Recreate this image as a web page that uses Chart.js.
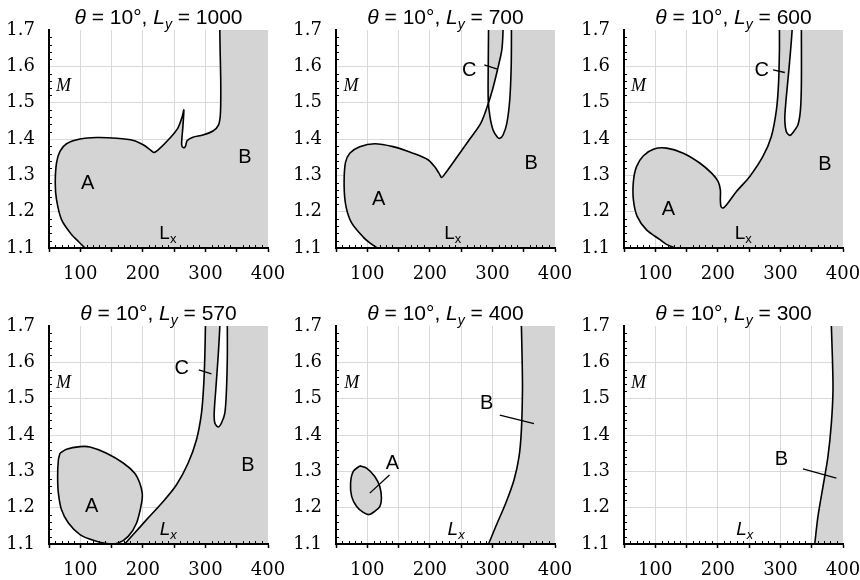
<!DOCTYPE html>
<html>
<head>
<meta charset="utf-8">
<title>theta = 10 deg, regions A B C</title>
<script src="https://cdn.jsdelivr.net/npm/chart.js@4.4.1/dist/chart.umd.min.js"></script>
<style>
  html, body { margin: 0; padding: 0; background: #fff; }
  #figure { position: relative; width: 860px; height: 580px; overflow: hidden; }
  .panel { position: absolute; width: 287px; height: 290px; }
  .panel canvas { display: block; }
</style>
</head>
<body>
<div id="figure">
  <div class="panel" style="left:0;top:0"><canvas id="panel-0" width="287" height="290"></canvas></div>
  <div class="panel" style="left:287px;top:0"><canvas id="panel-1" width="287" height="290"></canvas></div>
  <div class="panel" style="left:575px;top:0"><canvas id="panel-2" width="287" height="290"></canvas></div>
  <div class="panel" style="left:0;top:296px"><canvas id="panel-3" width="287" height="290"></canvas></div>
  <div class="panel" style="left:287px;top:296px"><canvas id="panel-4" width="287" height="290"></canvas></div>
  <div class="panel" style="left:575px;top:296px"><canvas id="panel-5" width="287" height="290"></canvas></div>
</div>
<script>
"use strict";

// theta = 10 deg in every panel, only L_y changes
const LY_VALUES = [1000, 700, 600, 570, 400, 300];
const X_TICKS = [100, 200, 300, 400];
const Y_TICKS = [1.1, 1.2, 1.3, 1.4, 1.5, 1.6, 1.7];

// [Lx, M] boundary of the shaded A+B region, from the bottom edge up to the top edge
const edgeLy1000 = [
  [112, 1.092], [107.5, 1.1], [97, 1.118], [86, 1.137], [70, 1.178], [62, 1.233], [60, 1.279],
  [62, 1.334], [67.5, 1.366], [78, 1.387], [99.5, 1.4], [126, 1.404], [158, 1.402], [185, 1.396],
  [200.5, 1.384], [212, 1.37], [217.5, 1.363], [224.5, 1.37], [243, 1.402], [256, 1.43],
  [263, 1.462], [265.5, 1.48], [264, 1.434], [262, 1.384], [265, 1.376], [268, 1.38], [271, 1.396],
  [280, 1.405], [296, 1.411], [312, 1.422], [321, 1.439], [324, 1.471], [324.5, 1.553],
  [323.5, 1.645], [323, 1.7], [323, 1.75]
];

const edgeLy700 = [
  [120, 1.092], [115.7, 1.1], [104, 1.114], [93.5, 1.13], [75, 1.169], [66, 1.214], [63, 1.269],
  [65, 1.334], [72, 1.361], [88, 1.379], [112, 1.387], [141, 1.379], [173, 1.361], [197, 1.343],
  [207.5, 1.324], [214.5, 1.306], [219, 1.294], [224, 1.304], [242, 1.347], [263, 1.398],
  [281.5, 1.444], [292, 1.491], [300, 1.535], [308, 1.59], [315, 1.645], [317, 1.7], [317.5, 1.75]
];
const loopCLy700 = [
  [294, 1.75], [293.8, 1.7], [293.3, 1.6], [293.3, 1.508], [296, 1.462], [301, 1.425], [308, 1.405],
  [312, 1.402], [317, 1.411], [323, 1.443], [327.7, 1.508], [330, 1.6], [330.4, 1.7], [330.5, 1.75]
];
// part of loop C that lies left of the A+B edge (shaded again)
const wedgeLy700 = [
  [293.8, 1.75], [293.8, 1.7], [293.3, 1.6], [293.5, 1.5], [300, 1.535], [308, 1.59],
  [315, 1.645], [317, 1.7], [317.5, 1.75]
];

const edgeLy600 = [
  [136, 1.092], [131.4, 1.1], [118, 1.11], [107.5, 1.123], [86, 1.15], [71, 1.187], [65, 1.233],
  [65, 1.283], [70, 1.324], [81, 1.354], [97, 1.372], [118, 1.375], [144.7, 1.361], [171, 1.334],
  [190, 1.306], [200.5, 1.283], [204, 1.26], [204, 1.233], [205, 1.214], [208.5, 1.21], [214, 1.219],
  [230, 1.256], [251, 1.297], [272, 1.352], [285.5, 1.407], [293.6, 1.48], [297, 1.553],
  [298.4, 1.645], [298.4, 1.7], [298.4, 1.75]
];
const loopCLy600 = [
  [319, 1.75], [318.7, 1.7], [314, 1.6], [308.5, 1.498], [307, 1.453], [309.5, 1.42], [315, 1.41],
  [321, 1.42], [328, 1.439], [332, 1.48], [333.5, 1.553], [333.5, 1.7], [333.5, 1.75]
];

const loopALy570 = [
  [67.6, 1.35], [78, 1.361], [99.5, 1.368], [115.4, 1.367], [142, 1.35], [168.6, 1.323], [187, 1.295],
  [195, 1.268], [199, 1.24], [198, 1.213], [190, 1.158], [176.6, 1.121], [160.7, 1.103], [142, 1.101],
  [120.8, 1.11], [99.5, 1.126], [81, 1.158], [70, 1.194], [65, 1.24], [63.8, 1.286], [65, 1.332],
  [67.6, 1.35]
];
const edgeLy570 = [
  [167, 1.092], [171, 1.1], [184.6, 1.126], [206, 1.167], [232.5, 1.217], [253.8, 1.263],
  [272.4, 1.323], [285.7, 1.387], [293.7, 1.46], [297.4, 1.542], [299, 1.616], [300, 1.7], [300, 1.75]
];
const loopCLy570 = [
  [323, 1.75], [323, 1.7], [320.3, 1.616], [316.5, 1.524], [314, 1.46], [315, 1.433], [320.3, 1.422],
  [325.6, 1.433], [331, 1.46], [333.6, 1.524], [335, 1.616], [335, 1.7], [335, 1.75]
];

const loopALy400 = [
  [88, 1.315], [98.8, 1.309], [112, 1.286], [120, 1.258], [122.6, 1.226], [120, 1.203], [112, 1.19],
  [103, 1.181], [93.5, 1.187], [83, 1.203], [75, 1.231], [73.3, 1.268], [77.6, 1.3], [88, 1.315]
];
const edgeLy400 = [
  [291, 1.09], [293.8, 1.1], [305.5, 1.149], [321.4, 1.213], [334.6, 1.277], [342.6, 1.341],
  [346.3, 1.414], [348, 1.524], [347.4, 1.616], [346.3, 1.7], [346, 1.75]
];

const edgeLy300 = [
  [354, 1.09], [354.8, 1.1], [360, 1.176], [368, 1.258], [376, 1.341], [381.4, 1.432],
  [384, 1.524], [383, 1.616], [381.4, 1.7], [381, 1.75]
];

// leader lines from the labels to their regions
const leaderCLy700 = [[287, 1.604], [308, 1.592]];
const leaderCLy600 = [[288.3, 1.59], [307, 1.583]];
const leaderCLy570 = [[289.4, 1.579], [309.6, 1.568]];
const leaderALy400 = [[135.5, 1.29], [104, 1.24]];
const leaderBLy400 = [[311.8, 1.455], [366.4, 1.431]];
const leaderBLy300 = [[336, 1.307], [389.4, 1.281]];

// corners outside the axes, used to close the B side of a region
const outerCorners = [[420, 1.75], [420, 1.05]];

const GRAY = '#d4d4d4';
const WHITE = '#ffffff';
const SERIF = '"DejaVu Serif", "Liberation Serif", serif';
const SANS = '"Liberation Sans", Arial, sans-serif';

const shade = (pts, color) => ({ pts, color, kind: 'fill' });
const edge = pts => ({ pts, kind: 'line' });
const leader = pts => ({ pts, kind: 'leader' });

const PANELS = [
  {
    layers: [shade(edgeLy1000.concat(outerCorners), GRAY), edge(edgeLy1000)],
    labels: { M: [73, 1.549], A: [112, 1.283], B: [363, 1.352], Lx: [240, 1.141] },
    italicLx: false
  },
  {
    layers: [
      shade(edgeLy700.concat(outerCorners), GRAY), shade(loopCLy700, WHITE), shade(wedgeLy700, GRAY),
      edge(edgeLy700), edge(loopCLy700), leader(leaderCLy700)
    ],
    labels: { M: [74, 1.549], A: [118, 1.237], B: [362, 1.338], C: [263, 1.593], Lx: [236.5, 1.141] },
    italicLx: false
  },
  {
    layers: [
      shade(edgeLy600.concat(outerCorners), GRAY), shade(loopCLy600, WHITE),
      edge(edgeLy600), edge(loopCLy600), leader(leaderCLy600)
    ],
    labels: { M: [73, 1.549], A: [121, 1.21], B: [371, 1.334], C: [270, 1.592], Lx: [240.5, 1.141] },
    italicLx: false
  },
  {
    layers: [
      shade(edgeLy570.concat(outerCorners), GRAY), shade(loopCLy570, WHITE), shade(loopALy570, GRAY),
      edge(edgeLy570), edge(loopCLy570), edge(loopALy570), leader(leaderCLy570)
    ],
    labels: { M: [73, 1.547], A: [118, 1.208], B: [368, 1.321], C: [262, 1.588], Lx: [240.5, 1.141] },
    italicLx: true
  },
  {
    layers: [
      shade(edgeLy400.concat(outerCorners), GRAY), shade(loopALy400, GRAY),
      edge(edgeLy400), edge(loopALy400), leader(leaderALy400), leader(leaderBLy400)
    ],
    labels: { M: [75, 1.547], A: [140, 1.327], B: [290.6, 1.492], Lx: [242, 1.141] },
    italicLx: true
  },
  {
    layers: [shade(edgeLy300.concat(outerCorners), GRAY), edge(edgeLy300), leader(leaderBLy300)],
    labels: { M: [73, 1.547], B: [301.6, 1.336], Lx: [243, 1.141] },
    italicLx: true
  }
];

const Figure = {
  init() {
    PANELS.forEach((panel, i) => {
      const canvas = document.getElementById('panel-' + i);
      if (canvas) this.renderPanel(canvas, panel, LY_VALUES[i]);
    });
  },

  toDataset(layer, order) {
    const base = {
      data: layer.pts.map(([x, y]) => ({ x, y })),
      pointRadius: 0,
      tension: layer.kind === 'leader' ? 0 : 0.3,
      clip: 0,
      order
    };
    if (layer.kind === 'fill') {
      return Object.assign(base, {
        fill: 'shape', backgroundColor: layer.color, borderColor: 'rgba(0,0,0,0)', borderWidth: 0
      });
    }
    return Object.assign(base, {
      fill: false, borderColor: '#000', borderWidth: layer.kind === 'leader' ? 1.3 : 1.6
    });
  },

  // draws a row of text pieces centred on cx, baseline at y
  drawRuns(ctx, runs, cx, y) {
    const fontOf = r => `${r.italic ? 'italic ' : ''}${r.size}px ${r.family}`;
    let total = 0;
    runs.forEach(r => {
      ctx.font = fontOf(r);
      r.w = ctx.measureText(r.text).width;
      total += r.w;
    });
    let x = cx - total / 2;
    ctx.textAlign = 'left';
    ctx.textBaseline = 'alphabetic';
    ctx.fillStyle = '#000';
    runs.forEach(r => {
      ctx.font = fontOf(r);
      ctx.fillText(r.text, x, y + (r.dy || 0));
      x += r.w;
    });
  },

  decorPlugin(panel, ly) {
    const self = this;
    return {
      id: 'decor',
      afterDraw(chart) {
        const { ctx, chartArea: area, scales: { x, y } } = chart;
        ctx.save();

        // minor ticks on the inside of both axes
        ctx.strokeStyle = '#000';
        ctx.lineWidth = 1;
        ctx.beginPath();
        for (let v = 60; v < 400; v += 10) {
          if (v % 50 === 0) continue;
          const px = Math.round(x.getPixelForValue(v)) + 0.5;
          ctx.moveTo(px, area.bottom);
          ctx.lineTo(px, area.bottom - 3);
        }
        for (let k = 1; k < 30; k++) {
          if (k % 5 === 0) continue;
          const py = Math.round(y.getPixelForValue(1.1 + k * 0.02)) + 0.5;
          ctx.moveTo(area.left, py);
          ctx.lineTo(area.left + 3, py);
        }
        ctx.stroke();

        // title
        const cx = (area.left + area.right) / 2;
        self.drawRuns(ctx, [
          { text: 'θ', italic: true, size: 21, family: SANS },
          { text: ' = 10°, ', size: 21, family: SANS },
          { text: 'L', italic: true, size: 21, family: SANS },
          { text: 'y', italic: true, size: 14, family: SANS, dy: 5 },
          { text: ' = ' + ly, size: 21, family: SANS }
        ], cx, area.top - 6);

        // region labels
        const at = key => [x.getPixelForValue(panel.labels[key][0]), y.getPixelForValue(panel.labels[key][1])];
        ['A', 'B', 'C'].forEach(key => {
          if (!panel.labels[key]) return;
          const [px, py] = at(key);
          self.drawRuns(ctx, [{ text: key, size: 20, family: SANS }], px, py + 7);
        });
        const [mx, my] = at('M');
        self.drawRuns(ctx, [{ text: 'M', italic: true, size: 18, family: '"Liberation Serif", serif' }], mx, my + 6);
        const [lx, lyPx] = at('Lx');
        self.drawRuns(ctx, [
          { text: 'L', italic: panel.italicLx, size: 19, family: SANS },
          { text: 'x', italic: panel.italicLx, size: 13, family: SANS, dy: 4 }
        ], lx, lyPx + 6);

        ctx.restore();
      }
    };
  },

  renderPanel(canvas, panel, ly) {
    if (typeof Chart === 'undefined') {
      console.error('Chart.js library not loaded');
      return;
    }
    const n = panel.layers.length;
    const hidden = 'rgba(0,0,0,0)';

    new Chart(canvas, {
      type: 'line',
      data: { datasets: panel.layers.map((layer, i) => this.toDataset(layer, n - i)) },
      options: {
        responsive: false,
        animation: false,
        events: [],
        layout: { padding: { top: 30, right: 19, left: 0, bottom: 0 } },
        plugins: { legend: { display: false }, tooltip: { enabled: false }, title: { display: false } },
        scales: {
          x: {
            type: 'linear',
            min: 50,
            max: 400,
            afterBuildTicks: s => { s.ticks = [50, 100, 150, 200, 250, 300, 350, 400].map(value => ({ value })); },
            afterFit: s => {
              s.height = 42;
              s.paddingLeft = 0;
              s.paddingRight = 0;
            },
            ticks: {
              autoSkip: false,
              maxRotation: 0,
              padding: 12,
              color: '#000',
              font: { family: SERIF, size: 18 },
              callback: v => (X_TICKS.includes(v) ? String(v) : '')
            },
            grid: {
              color: c => (c.tick && (c.tick.value === 50 || c.tick.value === 400) ? hidden : '#d9d9d9'),
              lineWidth: 1,
              tickColor: '#000',
              tickLength: 4,
              tickWidth: 1.5
            },
            border: { color: '#000', width: 2, z: 1 }
          },
          y: {
            type: 'linear',
            min: 1.1,
            max: 1.7,
            afterBuildTicks: s => { s.ticks = Y_TICKS.map(value => ({ value })); },
            afterFit: s => {
              s.width = 49;
              s.paddingTop = 0;
              s.paddingBottom = 0;
            },
            ticks: {
              padding: 14,
              color: '#000',
              font: { family: SERIF, size: 18 },
              callback: v => Number(v).toFixed(1)
            },
            grid: {
              color: c => (c.tick && (Math.abs(c.tick.value - 1.7) < 1e-6 || Math.abs(c.tick.value - 1.1) < 1e-6) ? hidden : '#d9d9d9'),
              lineWidth: 1,
              drawTicks: false
            },
            border: { color: '#000', width: 2, z: 1 }
          }
        }
      },
      plugins: [this.decorPlugin(panel, ly)]
    });
  }
};

document.addEventListener("DOMContentLoaded", () => Figure.init());
</script>
</body>
</html>
